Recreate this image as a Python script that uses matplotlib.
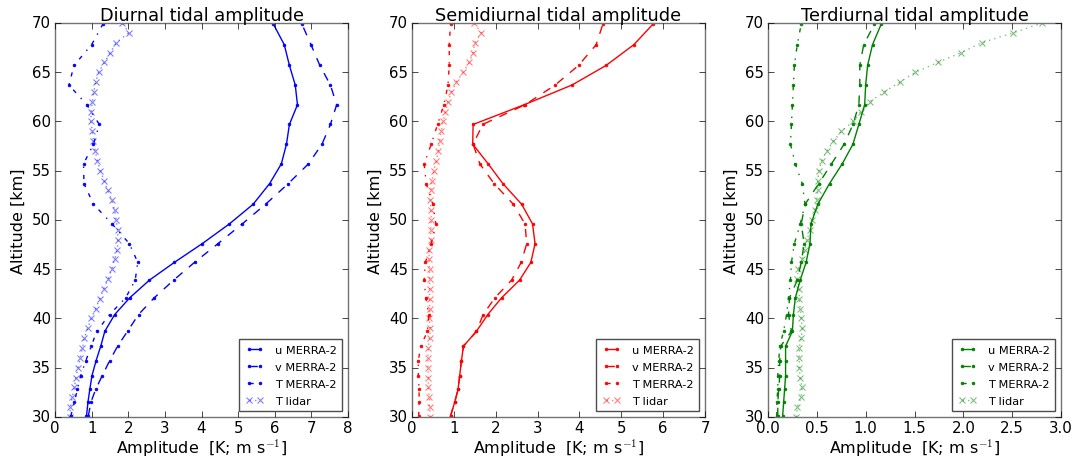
import numpy as np
import matplotlib
matplotlib.use("Agg")
import matplotlib.pyplot as plt

plt.style.use("classic")
plt.rcParams["font.family"] = ["DejaVu Sans"]
plt.rcParams["figure.facecolor"] = "white"
plt.rcParams["savefig.facecolor"] = "white"

# ---------------- data ----------------
z_merra = [30.1, 31.5, 32.8, 34.2, 35.7, 37.2, 38.7, 40.4, 42.1, 43.9, 45.7, 47.6,
           49.6, 51.6, 53.7, 55.7, 57.7, 59.7, 61.7, 63.7, 65.7, 67.8, 69.9]
z_lidar = list(range(30, 71))

titles = ["Diurnal tidal amplitude", "Semidiurnal tidal amplitude", "Terdiurnal tidal amplitude"]
labels = ["u MERRA-2", "v MERRA-2", "T MERRA-2", "T lidar"]

# Diurnal
u_d = [0.86, 0.90, 0.95, 1.01, 1.12, 1.25, 1.36, 1.63, 2.04, 2.58, 3.26, 4.02,
       4.76, 5.41, 5.86, 6.18, 6.32, 6.40, 6.62, 6.56, 6.40, 6.26, 5.96]
v_d = [0.91, 0.98, 1.11, 1.29, 1.49, 1.71, 1.98, 2.28, 2.71, 3.24, 3.81, 4.45,
       5.11, 5.75, 6.37, 6.92, 7.29, 7.52, 7.69, 7.52, 7.23, 6.99, 6.74]
T_d = [0.43, 0.53, 0.61, 0.70, 0.84, 0.99, 1.14, 1.49, 1.93, 2.19, 2.26, 2.03,
       1.56, 1.05, 0.79, 0.78, 1.05, 1.21, 0.87, 0.38, 0.52, 1.00, 1.31]
L_d = [0.40, 0.42, 0.47, 0.53, 0.57, 0.63, 0.69, 0.75, 0.80, 0.89, 0.99, 1.11,
       1.22, 1.33, 1.45, 1.55, 1.63, 1.70, 1.72, 1.71, 1.67, 1.63, 1.55, 1.44,
       1.34, 1.24, 1.16, 1.10, 1.05, 1.02, 0.98, 0.99, 1.02, 1.06, 1.11, 1.19,
       1.35, 1.51, 1.67, 2.01, 1.84]

# Semidiurnal
u_s = [0.92, 1.02, 1.10, 1.14, 1.18, 1.23, 1.54, 1.81, 2.14, 2.57, 2.84, 2.94,
       2.88, 2.62, 2.17, 1.82, 1.45, 1.46, 2.68, 3.82, 4.64, 5.30, 5.76]
v_s = [0.92, 1.02, 1.10, 1.14, 1.18, 1.23, 1.54, 1.70, 1.98, 2.38, 2.61, 2.74,
       2.70, 2.42, 1.96, 1.62, 1.46, 1.69, 2.70, 3.42, 3.98, 4.40, 4.56]
T_s = [0.16, 0.17, 0.17, 0.15, 0.15, 0.21, 0.37, 0.40, 0.33, 0.29, 0.32, 0.46,
       0.57, 0.50, 0.34, 0.29, 0.46, 0.61, 0.76, 0.86, 0.89, 0.89, 0.92]
L_s = [0.44, 0.42, 0.41, 0.39, 0.39, 0.38, 0.38, 0.39, 0.42, 0.44, 0.41, 0.42,
       0.42, 0.42, 0.42, 0.42, 0.41, 0.41, 0.45, 0.45, 0.46, 0.45, 0.44, 0.45,
       0.48, 0.52, 0.58, 0.63, 0.66, 0.70, 0.74, 0.80, 0.86, 0.94, 1.06, 1.22,
       1.37, 1.46, 1.50, 1.66, 1.48]

# Terdiurnal
u_t = [0.15, 0.16, 0.17, 0.18, 0.18, 0.18, 0.25, 0.26, 0.28, 0.33, 0.39, 0.43,
       0.44, 0.51, 0.63, 0.76, 0.87, 0.93, 0.99, 1.00, 1.02, 1.07, 1.16]
v_t = [0.10, 0.10, 0.11, 0.12, 0.12, 0.13, 0.24, 0.21, 0.22, 0.30, 0.34, 0.37,
       0.34, 0.38, 0.52, 0.65, 0.78, 0.87, 0.93, 0.94, 0.94, 0.98, 1.09]
T_t = [0.09, 0.09, 0.10, 0.10, 0.11, 0.12, 0.16, 0.19, 0.21, 0.23, 0.24, 0.27,
       0.33, 0.38, 0.35, 0.28, 0.23, 0.24, 0.25, 0.26, 0.27, 0.30, 0.34]
L_t = [0.29, 0.30, 0.34, 0.35, 0.33, 0.32, 0.32, 0.32, 0.34, 0.35, 0.34, 0.33,
       0.32, 0.32, 0.30, 0.31, 0.35, 0.38, 0.40, 0.43, 0.45, 0.48, 0.50, 0.51,
       0.51, 0.52, 0.55, 0.60, 0.67, 0.75, 0.87, 0.95, 1.04, 1.19, 1.35, 1.51,
       1.74, 1.98, 2.19, 2.51, 2.81]

panels = [
    (u_d, v_d, T_d, L_d, "b", 8, np.arange(0, 9, 1), ["0", "1", "2", "3", "4", "5", "6", "7", "8"]),
    (u_s, v_s, T_s, L_s, "r", 7, np.arange(0, 8, 1), ["0", "1", "2", "3", "4", "5", "6", "7"]),
    (u_t, v_t, T_t, L_t, "g", 3, np.arange(0, 3.01, 0.5), ["0.0", "0.5", "1.0", "1.5", "2.0", "2.5", "3.0"]),
]

fig = plt.figure(figsize=(10.77, 4.60), dpi=100)
lefts = [55 / 1077, 412 / 1077, 768 / 1077]
W = 293 / 1077
B = 42 / 460
H = 394 / 460

for i, (u, v, T, L, c, xmax, xt, xtl) in enumerate(panels):
    ax = fig.add_axes([lefts[i], B, W, H])
    ax.plot(u, z_merra, "-", color=c, marker=".", markersize=4, lw=1.0, label=labels[0])
    ax.plot(v, z_merra, "--", color=c, marker=".", markersize=4, lw=1.0, label=labels[1])
    ax.plot(T, z_merra, "-.", color=c, marker=".", markersize=4, lw=1.0, label=labels[2])
    ax.plot(L, z_lidar, ":", color=c, marker="x", markersize=4, mew=0.8, lw=1.0,
            alpha=0.5, label=labels[3])
    ax.set_xlim(0, xmax)
    ax.set_ylim(30, 70)
    ax.set_xticks(xt)
    ax.set_xticklabels(xtl)
    ax.set_yticks(np.arange(30, 71, 5))
    ax.tick_params(labelsize=10.8, direction="in", length=4, width=0.5, top=True, right=True)
    ax.tick_params(axis="x", pad=2)
    ax.tick_params(axis="y", pad=3)
    for s in ax.spines.values():
        s.set_color("0.45")
        s.set_linewidth(1.0)
    ax.set_title(titles[i], fontsize=12.8, pad=2.0)
    ax.set_xlabel("Amplitude  [K; m s$^{-1}$]", fontsize=11.5, labelpad=1)
    ax.set_ylabel("Altitude [km]", fontsize=11.5, labelpad=4)
    leg = ax.legend(loc="lower right", fontsize=8.2, numpoints=2, fancybox=False,
                    borderaxespad=0.5, handlelength=1.6, handletextpad=1.0,
                    labelspacing=0.6, borderpad=0.5)
    leg.get_frame().set_edgecolor("0.3")
    leg.get_frame().set_linewidth(1.0)

fig.savefig("out.png", dpi=100)
